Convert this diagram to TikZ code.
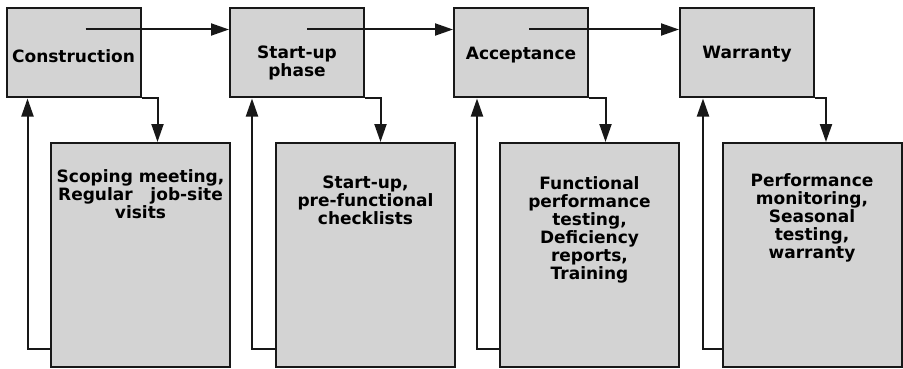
\documentclass[tikz,border=0pt]{standalone}
\usepackage{fontspec}
\setmainfont{DejaVu Sans}
\usepackage{xcolor}
\usepackage{tikz}
\usetikzlibrary{arrows.meta,positioning}
\definecolor{boxgray}{RGB}{211,211,211}
\definecolor{inkgray}{RGB}{24,24,24}

\begin{document}
\begin{tikzpicture}[x=1pt, y=-1pt,
        phase/.style={rectangle, draw=inkgray, line width=2pt, fill=boxgray, minimum width=134pt, minimum height=89pt, inner sep=0pt, align=center, font=\fontsize{17}{18}\selectfont\bfseries},
        detail/.style={rectangle, draw=inkgray, line width=2pt, fill=boxgray, minimum width=179pt, minimum height=224pt},
        note/.style={inner sep=0pt, align=center, font=\fontsize{17}{18}\selectfont\bfseries},
        flow/.style={-{Triangle[length=18pt,width=12pt]}, draw=inkgray, line width=2pt}]
        \useasboundingbox (0,0) rectangle (903,369);

        % Define the nodes
        \node[phase] (con) at (73.5,53) {};
        \node[phase] (sup) at (297,53) {};
        \node[phase] (acc) at (521,53) {};
        \node[phase] (war) at (747,53) {};

        \node[note] (context) at ([yshift=-3pt]con.center) {Construction};
        \node[note] (suptext) at ([yshift=-10pt]sup.center) {Start-up\\phase};
        \node[note] (acctext) at ([yshift=-2pt]acc.center) {Acceptance};
        \node[note] (wartext) at ([yshift=-1pt]war.center) {Warranty};

        \node[detail] (scope) at (140.5,255) {};
        \node[detail] (pre) at (365.5,255) {};
        \node[detail] (fpt) at (589.5,255) {};
        \node[detail] (perf) at (812,255) {};

        \node[note, below=27pt of scope.north] (scopetext) {Scoping meeting,\\Regular\ \ \ job-site\\visits};
        \node[note, below=34pt of pre.north] (pretext) {Start-up,\\pre-functional\\checklists};
        \node[note, below=34pt of fpt.north] (fpttext) {Functional\\performance\\testing,\\Deficiency\\reports,\\Training};
        \node[note, below=31pt of perf.north] (perftext) {Performance\\monitoring,\\Seasonal\\testing,\\warranty};

        % Draw the arrows
        \draw[flow] ([xshift=12pt,yshift=-22pt]con.north) -- ([yshift=-22pt]sup.north west);
        \draw[flow] ([xshift=10pt,yshift=-22pt]sup.north) -- ([yshift=-22pt]acc.north west);
        \draw[flow] ([xshift=8pt,yshift=-22pt]acc.north) -- ([yshift=-22pt]war.north west);

        \draw[flow] (con.south east) -| ([xshift=17pt]scope.north);
        \draw[flow] (sup.south east) -| ([xshift=15pt]pre.north);
        \draw[flow] (acc.south east) -| ([xshift=16pt]fpt.north);
        \draw[flow] (war.south east) -| ([xshift=14pt]perf.north);

        \draw[flow] ([yshift=19pt]scope.south west) -| ([xshift=22pt]con.south west);
        \draw[flow] ([yshift=19pt]pre.south west) -| ([xshift=23pt]sup.south west);
        \draw[flow] ([yshift=19pt]fpt.south west) -| ([xshift=24pt]acc.south west);
        \draw[flow] ([yshift=19pt]perf.south west) -| ([xshift=24pt]war.south west);
\end{tikzpicture}
\end{document}
